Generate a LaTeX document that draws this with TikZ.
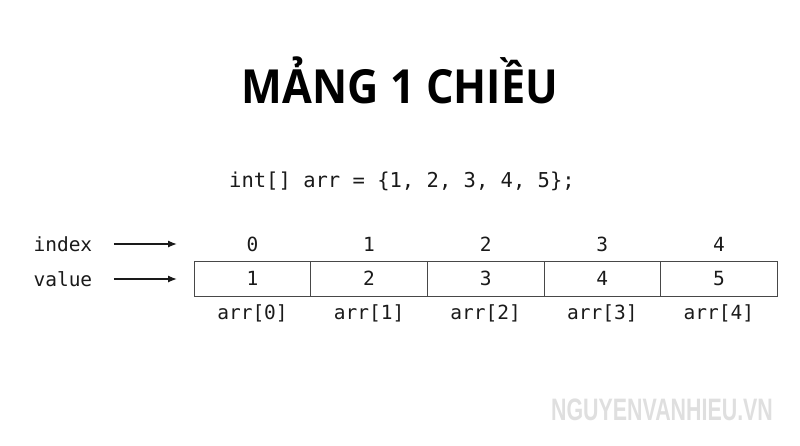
\documentclass[tikz,border=0pt]{standalone}
\usepackage{fontspec}
\usepackage{graphicx}
\setsansfont{Open Sans}
\setmonofont{DejaVu Sans Mono}
\newfontfamily\markfont{Liberation Sans}
\usetikzlibrary{arrows.meta}
\definecolor{ink}{HTML}{1A1A1A}
\tikzset{
  cell/.style={draw=ink!80,line width=1pt,minimum width=116.6pt,minimum height=35pt,inner sep=0pt},
  arrow/.style={-{Latex[length=9pt,width=7pt]},line width=1.3pt,ink}
}
\begin{document}
\begin{tikzpicture}[x=1pt,y=-1pt,font=\ttfamily\fontsize{19.5}{19.5}\selectfont,text=ink]
\useasboundingbox (0,0) rectangle (800,445);
\node[text=black] (title) at (400,80) {\scalebox{0.92}[1]{\sffamily\bfseries\fontsize{47}{47}\selectfont MẢNG 1 CHIỀU}};
\node (code) at (402,181) {\fontsize{20.5}{20.5}\selectfont int[] arr = \{1, 2, 3, 4, 5\};};
% labels on the left
\node[anchor=west] (lidx) at (30,244) {index};
\node[anchor=west] (lval) at (30,279) {value};
\coordinate (tidx) at (177,244);
\coordinate (tval) at (177,279);
\draw[arrow] ([xshift=18pt]lidx.east) -- (tidx);
\draw[arrow] ([xshift=18pt]lval.east) -- (tval);
% the array
\foreach \i [evaluate=\i as \v using int(\i+1)] in {0,...,4} {
  \node[cell] (c\i) at (252.5+116.6*\i,278.5) {\v};
  \node (i\i) at (252.5+116.6*\i,244) {\i};
  \node (a\i) at (252.5+116.6*\i,313) {arr[\i]};
}
\node[text=gray!25] (mark) at (662,410) {\scalebox{0.69}[1]{\markfont\bfseries\fontsize{31}{31}\selectfont NGUYENVANHIEU.VN}};
\end{tikzpicture}
\end{document}
